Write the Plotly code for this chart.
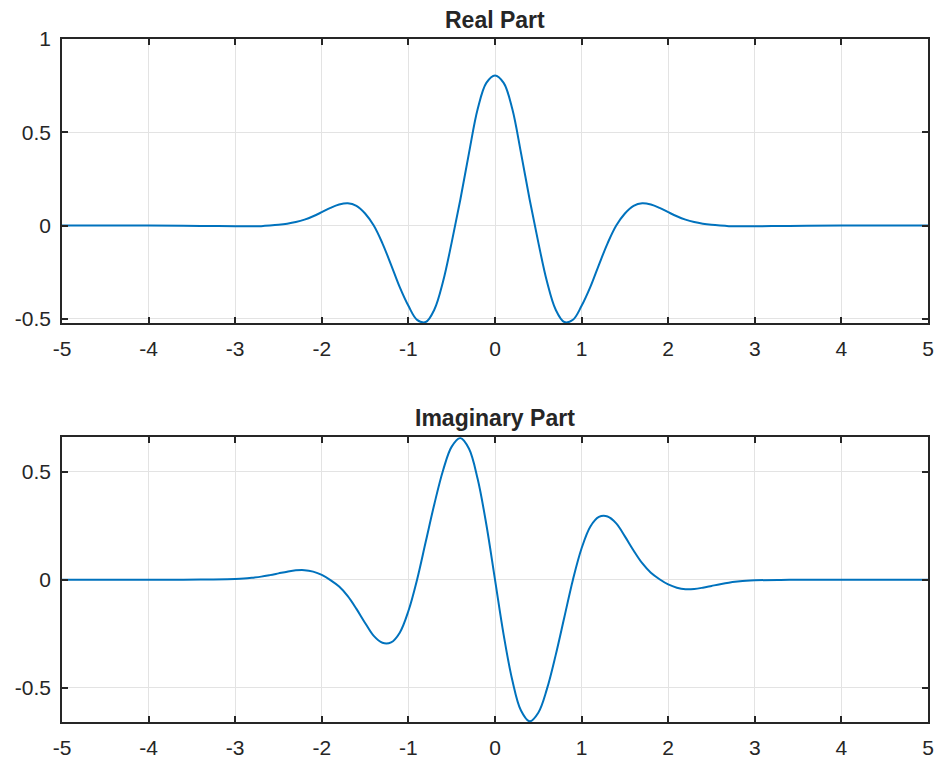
import plotly.graph_objects as go

# sample positions (x)
x_vals = [-5.0, -4.5, -4.0, -3.6, -3.3,
          -3.0, -2.9, -2.8, -2.7, -2.6, -2.5, -2.4, -2.3, -2.2, -2.1,
          -2.0, -1.9, -1.8, -1.7, -1.6, -1.5, -1.4, -1.3, -1.2, -1.1,
          -1.0, -0.9, -0.8, -0.7, -0.6, -0.5, -0.4, -0.3, -0.2, -0.1,
          0.0,
          0.1, 0.2, 0.3, 0.4, 0.5, 0.6, 0.7, 0.8, 0.9, 1.0,
          1.1, 1.2, 1.3, 1.4, 1.5, 1.6, 1.7, 1.8, 1.9, 2.0,
          2.1, 2.2, 2.3, 2.4, 2.5, 2.6, 2.7, 2.8, 2.9, 3.0,
          3.3, 3.6, 4.0, 4.5, 5.0]

# real part values
real_vals = [0.0, 0.0, 0.0, -0.001, -0.002,
             -0.004, -0.004, -0.004, -0.003, 0.0, 0.004, 0.010, 0.019, 0.032, 0.050,
             0.072, 0.095, 0.113, 0.120, 0.106, 0.065, 0.0, -0.095, -0.210, -0.330,
             -0.430, -0.505, -0.517, -0.450, -0.300, -0.090, 0.140, 0.390, 0.625, 0.765,
             0.805,
             0.765, 0.625, 0.390, 0.140, -0.090, -0.300, -0.450, -0.517, -0.505, -0.430,
             -0.330, -0.210, -0.095, 0.0, 0.065, 0.106, 0.120, 0.113, 0.095, 0.072,
             0.050, 0.032, 0.019, 0.010, 0.004, 0.0, -0.003, -0.004, -0.004, -0.004,
             -0.002, -0.001, 0.0, 0.0, 0.0]

# imaginary part values
imag_vals = [0.0, 0.0, 0.0, 0.0, 0.001,
             0.003, 0.005, 0.009, 0.014, 0.021, 0.029, 0.037, 0.043, 0.044, 0.037,
             0.022, -0.002, -0.032, -0.076, -0.135, -0.200, -0.260, -0.292, -0.290, -0.245,
             -0.145, 0.0, 0.175, 0.350, 0.505, 0.615, 0.655, 0.605, 0.465, 0.255,
             0.0,
             -0.255, -0.465, -0.605, -0.655, -0.615, -0.505, -0.350, -0.175, 0.0, 0.145,
             0.245, 0.290, 0.292, 0.260, 0.200, 0.135, 0.076, 0.032, 0.002, -0.022,
             -0.037, -0.044, -0.043, -0.037, -0.029, -0.021, -0.014, -0.009, -0.005, -0.003,
             -0.001, 0.0, 0.0, 0.0, 0.0]

x_ticks = [-5, -4, -3, -2, -1, 0, 1, 2, 3, 4, 5]
x_tick_text = ["-5", "-4", "-3", "-2", "-1", "0", "1", "2", "3", "4", "5"]
real_y_ticks = [-0.5, 0, 0.5, 1]
real_y_text = ["-0.5", "0", "0.5", "1"]
imag_y_ticks = [-0.5, 0, 0.5]
imag_y_text = ["-0.5", "0", "0.5"]
titles = ["Real Part", "Imaginary Part"]

LINE = "#0072BD"
AX = "#262626"
GRID = "#e3e3e3"
FONT = "Arial, Liberation Sans, sans-serif"

fig = go.Figure()
fig.add_trace(go.Scatter(x=x_vals, y=real_vals, mode="lines", line=dict(color=LINE, width=2, shape="spline"),
                         xaxis="x", yaxis="y", showlegend=False))
fig.add_trace(go.Scatter(x=x_vals, y=imag_vals, mode="lines", line=dict(color=LINE, width=2, shape="spline"),
                         xaxis="x2", yaxis="y2", showlegend=False))

common = dict(showline=True, linecolor=AX, linewidth=1.5, mirror="ticks",
              ticks="inside", ticklen=6, tickwidth=1.5, tickcolor=AX,
              showgrid=True, gridcolor=GRID, gridwidth=1, zeroline=False, automargin=False,
              tickfont=dict(family=FONT, size=21, color=AX))

fig.update_layout(
    width=940, height=761,
    margin=dict(l=62, r=12, t=39, b=39),
    paper_bgcolor="white", plot_bgcolor="white",
    xaxis=dict(domain=[0, 1], anchor="y", range=[-5, 5], tickvals=x_ticks, ticktext=x_tick_text,
               ticklabelstandoff=6, **common),
    yaxis=dict(domain=[0.5842, 1], anchor="x", range=[-0.522, 1], tickvals=real_y_ticks, ticktext=real_y_text,
               ticklabelstandoff=5, **common),
    xaxis2=dict(domain=[0, 1], anchor="y2", range=[-5, 5], tickvals=x_ticks, ticktext=x_tick_text,
                ticklabelstandoff=6, **common),
    yaxis2=dict(domain=[0, 0.4168], anchor="x2", range=[-0.658, 0.658], tickvals=imag_y_ticks, ticktext=imag_y_text,
                ticklabelstandoff=5, **common),
    annotations=[
        dict(text="<b>%s</b>" % titles[0], x=0.5, y=1.0, xref="paper", yref="paper", yshift=4,
             xanchor="center", yanchor="bottom", showarrow=False, font=dict(family=FONT, size=23, color=AX)),
        dict(text="<b>%s</b>" % titles[1], x=0.5, y=0.4168, xref="paper", yref="paper", yshift=4,
             xanchor="center", yanchor="bottom", showarrow=False, font=dict(family=FONT, size=23, color=AX)),
    ],
)

# remove the default 8px page margin so the figure fills the 940x761 window exactly
fig.write_html("out.html", config={"displayModeBar": False},
               post_script="document.body.style.margin='0';document.body.style.overflow='hidden';")
